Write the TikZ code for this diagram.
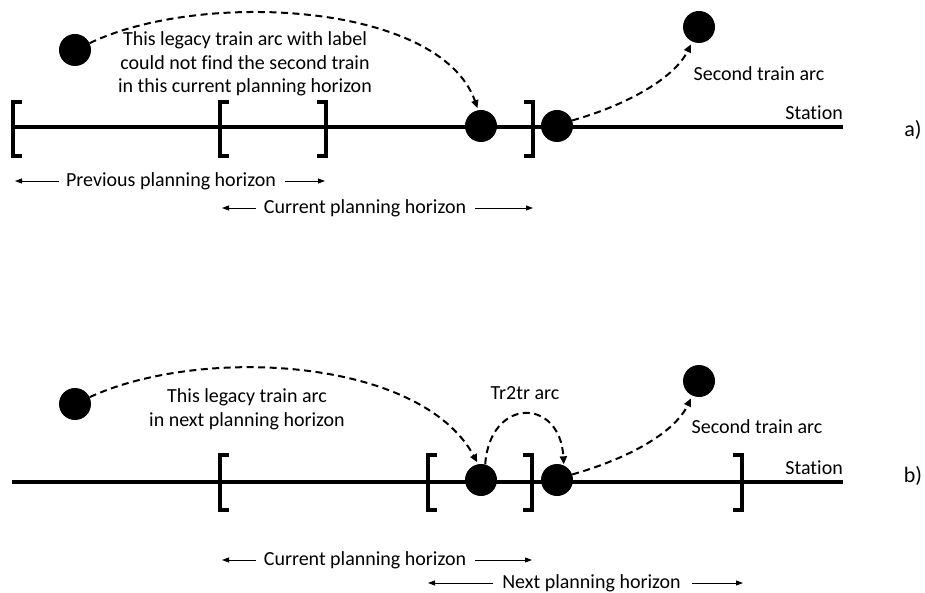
\documentclass[tikz,border=0pt]{standalone}
\usepackage{fontspec}
\setmainfont{Carlito}[Ligatures=NoCommon]
\usetikzlibrary{arrows.meta}
\begin{document}
\begin{tikzpicture}[x=1pt,y=1pt,
  txt/.style={font=\fontsize{20}{23.5}\selectfont, inner sep=0pt},
  lbl/.style={font=\fontsize{22}{26}\selectfont, inner sep=0pt},
  dot/.style={circle, fill=black, minimum size=32pt, inner sep=0pt},
  track/.style={line width=3.5pt},
  brk/.style={line width=3.5pt},
  arcline/.style={line width=2pt, dash pattern=on 7pt off 4.5pt, -{Triangle[length=8pt,width=7pt]}},
  harrow/.style={line width=0.8pt, -{Triangle[length=7pt,width=5pt]}}]
\useasboundingbox (0,0) rectangle (925,592);

% ---------------- panel a ----------------
\coordinate (aL) at (12,465);
\coordinate (aR) at (843,465);
\draw[track] (aL) -- (aR);
\draw[brk] (22,490) -- (13,490) -- (13,436) -- (22,436);
\draw[brk] (229,490) -- (220,490) -- (220,436) -- (229,436);
\draw[brk] (317,490) -- (326,490) -- (326,436) -- (317,436);
\draw[brk] (524,490) -- (533,490) -- (533,436) -- (524,436);

\node[dot] (A1) at (75,542) {};
\node[dot] (A2) at (481,466) {};
\node[dot] (A3) at (557,466) {};
\node[dot] (A4) at (699,565) {};

\node[txt, align=center] (labA) at (245,528) {This legacy train arc with label\\could not find the second train\\in this current planning horizon};
\node[txt] (secA) at (759,518) {Second train arc};
\node[txt, anchor=base east] (staA) at (843,472) {Station};
\node[lbl] (pa) at (913,462) {a)};

\draw[arcline, shorten >=2pt] (A1.25) .. controls (200,602) and (440,590) .. (A2.100);
\draw[arcline, shorten >=3pt] (A3.20) .. controls (630,488) and (675,515) .. (A4.245);

\node[txt] (prevA) at (171,411) {Previous planning horizon};
\coordinate (prevAL) at (15,411);
\coordinate (prevAR) at (325,411);
\draw[harrow, shorten <=7pt] (prevA.west) -- (prevAL);
\draw[harrow, shorten <=9pt] (prevA.east) -- (prevAR);

\node[txt] (curA) at (365,384) {Current planning horizon};
\coordinate (curAL) at (222,384);
\coordinate (curAR) at (533,384);
\draw[harrow, shorten <=8pt] (curA.west) -- (curAL);
\draw[harrow, shorten <=9pt] (curA.east) -- (curAR);

% ---------------- panel b ----------------
\coordinate (bL) at (12,110);
\coordinate (bR) at (843,110);
\draw[track] (bL) -- (bR);
\draw[brk] (229,137) -- (220,137) -- (220,82) -- (229,82);
\draw[brk] (437,137) -- (428,137) -- (428,82) -- (437,82);
\draw[brk] (523,137) -- (532,137) -- (532,82) -- (523,82);
\draw[brk] (733,137) -- (742,137) -- (742,82) -- (733,82);

\node[dot] (B1) at (75,188) {};
\node[dot] (B2) at (481,112) {};
\node[dot] (B3) at (557,112) {};
\node[dot] (B4) at (699,211) {};

\node[txt, align=center] (labB) at (247,182.5) {This legacy train arc\\in next planning horizon};
\node[txt] (trtr) at (525,199) {Tr2tr arc};
\node[txt] (secB) at (757,165) {Second train arc};
\node[txt, anchor=base east] (staB) at (843,118) {Station};
\node[lbl] (pb) at (913,116) {b)};

\draw[arcline, shorten >=2pt] (B1.25) .. controls (200,246) and (420,235) .. (B2.100);
\draw[arcline, shorten >=1pt] (B2.75) .. controls (490,195) and (560,195) .. (B3.65);
\draw[arcline, shorten >=3pt] (B3.20) .. controls (630,134) and (675,160) .. (B4.245);

\node[txt] (curB) at (365,32) {Current planning horizon};
\coordinate (curBL) at (222,32);
\coordinate (curBR) at (532,32);
\draw[harrow, shorten <=8pt] (curB.west) -- (curBL);
\draw[harrow, shorten <=9pt] (curB.east) -- (curBR);

\node[txt] (nextB) at (591.5,9) {Next planning horizon};
\coordinate (nextBL) at (428,9);
\coordinate (nextBR) at (743,9);
\draw[harrow, shorten <=9pt] (nextB.west) -- (nextBL);
\draw[harrow, shorten <=11pt] (nextB.east) -- (nextBR);
\end{tikzpicture}
\end{document}
